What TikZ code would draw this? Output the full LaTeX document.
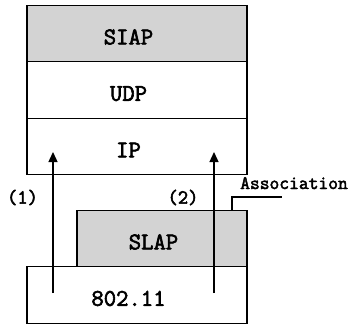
\documentclass[tikz,border=0pt]{standalone}
\usepackage{fontspec}
\newfontfamily\courfont[FakeBold=2.5]{Latin Modern Mono}
\usepackage{tikz}
\usetikzlibrary{arrows.meta,positioning}
\definecolor{laygrey}{HTML}{D3D3D3}
\tikzset{
  layer/.style={draw,line width=1.2pt,minimum width=220pt,minimum height=56.5pt,
                inner sep=0pt,outer sep=0pt,text height=21.7pt,text depth=0pt,
                execute at end node=\hspace*{17pt},
                font=\courfont\fontsize{24}{26}\selectfont},
  shaded/.style={layer,fill=laygrey},
  up/.style={-{Triangle[length=10pt,width=9pt]},line width=1.3pt},
  lab/.style={font=\courfont\fontsize{20}{22}\selectfont,inner sep=0pt},
}
\begin{document}
\begin{tikzpicture}[x=1pt,y=-1pt,node distance=0pt]
  \useasboundingbox (0,0) rectangle (358,329);
  % upper stack
  \node[shaded] (siap) at (137,33.5) {SIAP};
  \node[layer,below=of siap] (udp) {UDP};
  \node[layer,below=of udp] (ip) {IP};
  % lower stack
  \node[layer] (wifi) at (137,295) {802.11};
  \node[shaded,minimum width=170pt,anchor=south east] (slap) at (wifi.north east) {SLAP};
  % paths through SLAP
  \coordinate (s1) at (53,293);  \coordinate (e1) at (53,152);
  \coordinate (s2) at (214,293); \coordinate (e2) at (214,152);
  \draw[up] (s1) -- (e1);
  \draw[up] (s2) -- (e2);
  \node[lab] (one) at (22.5,197.5) {(1)};
  \node[lab] (two) at (183,197.5) {(2)};
  % association marker
  \coordinate (bend) at (232,197);
  \coordinate (tail) at (282,197);
  \node[lab,font=\courfont\fontsize{19}{21}\selectfont,anchor=base west] (assoc) at (240,189) {Association};
  \draw[line width=1.2pt] (slap.north east -| bend) -- (bend) -- (tail);
\end{tikzpicture}
\end{document}
